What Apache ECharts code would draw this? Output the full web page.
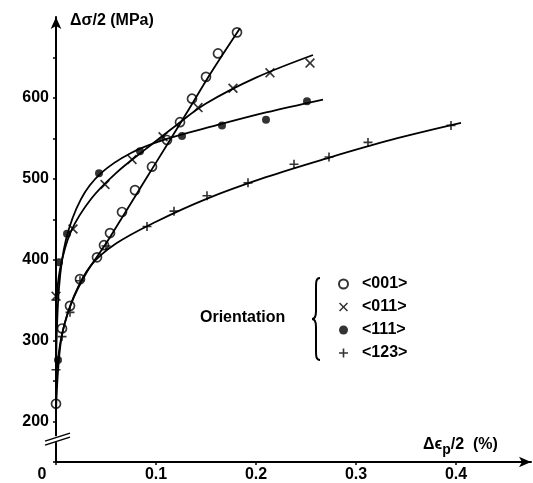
<!DOCTYPE html>
<html>
<head>
<meta charset="UTF-8">
<title>Cyclic stress-strain curves</title>
<script src="https://cdn.jsdelivr.net/npm/echarts@6/dist/echarts.min.js"></script>
<style>
  html, body { margin: 0; padding: 0; background: #fff; }
  #chart { width: 533px; height: 483px; }
</style>
</head>
<body>
<div id="chart"></div>
<script>
// orientations (legend order)
const orientations = ['<001>', '<011>', '<111>', '<123>'];

// measured points: [Δεp/2 (%), Δσ/2 (MPa)]
const pts001 = [[0.0, 222], [0.006, 315], [0.014, 343], [0.024, 376], [0.041, 403], [0.048, 418],
  [0.054, 433], [0.066, 459], [0.079, 486], [0.096, 515], [0.111, 548], [0.124, 570],
  [0.136, 599], [0.150, 626], [0.162, 655], [0.181, 681]];
const pts011 = [[0.0, 355], [0.017, 438], [0.049, 493], [0.076, 524], [0.107, 552],
  [0.142, 588], [0.177, 612], [0.214, 631], [0.254, 643]];
const pts111 = [[0.002, 276], [0.003, 397], [0.011, 432], [0.043, 507], [0.084, 534],
  [0.126, 553], [0.166, 566], [0.210, 573], [0.251, 596]];
const pts123 = [[0.0, 264], [0.006, 305], [0.014, 335], [0.024, 374], [0.050, 417],
  [0.091, 441], [0.118, 460], [0.151, 479], [0.192, 495], [0.238, 518], [0.273, 527],
  [0.312, 545], [0.395, 566]];

// hand-drawn fitted curves
const fit001 = [[0.0, 212], [0.005, 300], [0.015, 345], [0.03, 383], [0.05, 420],
  [0.07, 460], [0.09, 500], [0.11, 540], [0.13, 580], [0.155, 631], [0.184, 686]];
const fit011 = [[0.0, 340], [0.004, 388], [0.015, 435], [0.035, 475], [0.06, 507],
  [0.09, 537], [0.12, 566], [0.15, 593], [0.2, 625], [0.257, 653]];
const fit111 = [[0.0, 265], [0.003, 365], [0.01, 425], [0.025, 475], [0.045, 507],
  [0.075, 532], [0.11, 549], [0.16, 566], [0.21, 582], [0.267, 598]];
const fit123 = [[0.0, 255], [0.006, 308], [0.018, 355], [0.035, 393], [0.06, 420],
  [0.1, 447], [0.15, 475], [0.21, 502], [0.27, 525], [0.335, 548], [0.405, 569]];

// tick labels
const yTickLabels = [200, 300, 400, 500, 600];
const xTickLabels = [0, 0.1, 0.2, 0.3, 0.4];

const FONT = "'Liberation Sans', Arial, sans-serif";

const crossPath = 'path://M0,1.2L1.2,0L5,3.8L8.8,0L10,1.2L6.2,5L10,8.8L8.8,10L5,6.2L1.2,10L0,8.8L3.8,5Z';
const plusPath = 'path://M4.1,0H5.9V4.1H10V5.9H5.9V10H4.1V5.9H0V4.1H4.1Z';

const marks = [
  { name: orientations[0], data: pts001, symbol: 'circle', size: 9,
    style: { color: 'rgba(255,255,255,0)', borderColor: '#000', borderWidth: 1.7 } },
  { name: orientations[1], data: pts011, symbol: crossPath, size: 10, style: { color: '#000' } },
  { name: orientations[2], data: pts111, symbol: 'circle', size: 8, style: { color: '#000' } },
  { name: orientations[3], data: pts123, symbol: plusPath, size: 9, style: { color: '#000' } }
];
const fits = [fit001, fit011, fit111, fit123];

const series = [];
fits.forEach((f, i) => {
  series.push({
    type: 'line', name: 'fit' + i, data: f, smooth: 0.35,
    showSymbol: false, silent: true, z: 2,
    lineStyle: { color: '#000', width: 1.8 }
  });
});
marks.forEach(m => {
  series.push({
    type: 'scatter', name: m.name, data: m.data, symbol: m.symbol, symbolSize: m.size,
    itemStyle: m.style, z: 3
  });
});

const chart = echarts.init(document.getElementById('chart'));
chart.setOption({
  animation: false,
  backgroundColor: '#fff',
  grid: { left: 56, right: 2, top: 17, bottom: 19, containLabel: false },
  xAxis: {
    type: 'value', min: 0, max: 0.475, interval: 0.1,
    axisLine: { onZero: false, symbol: ['none', 'arrow'], symbolSize: [8, 12],
      lineStyle: { color: '#000', width: 2 } },
    axisTick: { show: true, length: 3, lineStyle: { color: '#000', width: 1.5 } },
    splitLine: { show: false },
    axisLabel: {
      color: '#000', fontFamily: FONT, fontWeight: 'bold', fontSize: 16,
      margin: 5, showMaxLabel: false,
      formatter: v => {
        if (v === 0) return '{z|0}';
        const t = xTickLabels.find(x => Math.abs(x - v) < 1e-6);
        return t === undefined ? '' : t.toFixed(1);
      },
      rich: { z: { color: '#000', fontFamily: FONT, fontWeight: 'bold', fontSize: 16, padding: [0, 28, 0, 0] } }
    }
  },
  yAxis: {
    type: 'value', min: 150, max: 700, interval: 50,
    axisLine: { onZero: false, symbol: ['none', 'arrow'], symbolSize: [8, 12],
      lineStyle: { color: '#000', width: 2 } },
    axisTick: { show: true, length: 3, lineStyle: { color: '#000', width: 1.5 } },
    splitLine: { show: false },
    axisLabel: {
      color: '#000', fontFamily: FONT, fontWeight: 'bold', fontSize: 16,
      margin: 7, showMaxLabel: false,
      formatter: v => (yTickLabels.indexOf(v) >= 0 ? String(v) : '')
    }
  },
  legend: {
    data: orientations,
    orient: 'vertical', left: 333, top: 271,
    itemWidth: 9, itemHeight: 9, itemGap: 7,
    selectedMode: false,
    textStyle: { color: '#000', fontFamily: FONT, fontWeight: 'bold', fontSize: 16, padding: [0, 0, 0, 9] }
  },
  series: series
});

// axis titles, the "Orientation" brace and the axis break marks
const brk = chart.convertToPixel({ gridIndex: 0 }, [0, 177]);
const braceStyle = { stroke: '#000', lineWidth: 2, fill: 'none' };
const bx = 316, by = 278;
chart.setOption({
  graphic: [
    { type: 'text', left: 70, top: 13,
      style: { text: 'Δσ/2 (MPa)', fill: '#000', font: 'bold 16px ' + FONT } },
    { type: 'text', left: 423, top: 437,
      style: {
        text: 'Δϵ{s|p}/2  (%)', fill: '#000', font: 'bold 16px ' + FONT,
        rich: { s: { fill: '#000', font: 'bold 14px ' + FONT, padding: [10, 0, 0, 0] } }
      } },
    { type: 'text', left: 200, top: 310,
      style: { text: 'Orientation', fill: '#000', font: 'bold 16px ' + FONT } },
    { type: 'bezierCurve', shape: { x1: bx + 4, y1: by, cpx1: bx, cpy1: by, cpx2: bx, cpy2: by + 4, x2: bx, y2: by + 10 }, style: braceStyle },
    { type: 'line', shape: { x1: bx, y1: by + 10, x2: bx, y2: by + 33 }, style: braceStyle },
    { type: 'bezierCurve', shape: { x1: bx, y1: by + 33, cpx1: bx, cpy1: by + 39, cpx2: bx - 2, cpy2: by + 41, x2: bx - 4, y2: by + 41 }, style: braceStyle },
    { type: 'bezierCurve', shape: { x1: bx - 4, y1: by + 41, cpx1: bx - 2, cpy1: by + 41, cpx2: bx, cpy2: by + 43, x2: bx, y2: by + 49 }, style: braceStyle },
    { type: 'line', shape: { x1: bx, y1: by + 49, x2: bx, y2: by + 72 }, style: braceStyle },
    { type: 'bezierCurve', shape: { x1: bx, y1: by + 72, cpx1: bx, cpy1: by + 78, cpx2: bx, cpy2: by + 82, x2: bx + 4, y2: by + 82 }, style: braceStyle },
    { type: 'rect', shape: { x: brk[0] - 3, y: brk[1] - 4, width: 6, height: 6 },
      style: { fill: '#fff' }, z: 10 },
    { type: 'line', shape: { x1: brk[0] - 11, y1: brk[1] + 5, x2: brk[0] + 14, y2: brk[1] - 3 },
      style: { stroke: '#000', lineWidth: 1.5 }, z: 11 },
    { type: 'line', shape: { x1: brk[0] - 11, y1: brk[1] + 1, x2: brk[0] + 14, y2: brk[1] - 7 },
      style: { stroke: '#000', lineWidth: 1.5 }, z: 11 }
  ]
});
</script>
</body>
</html>
